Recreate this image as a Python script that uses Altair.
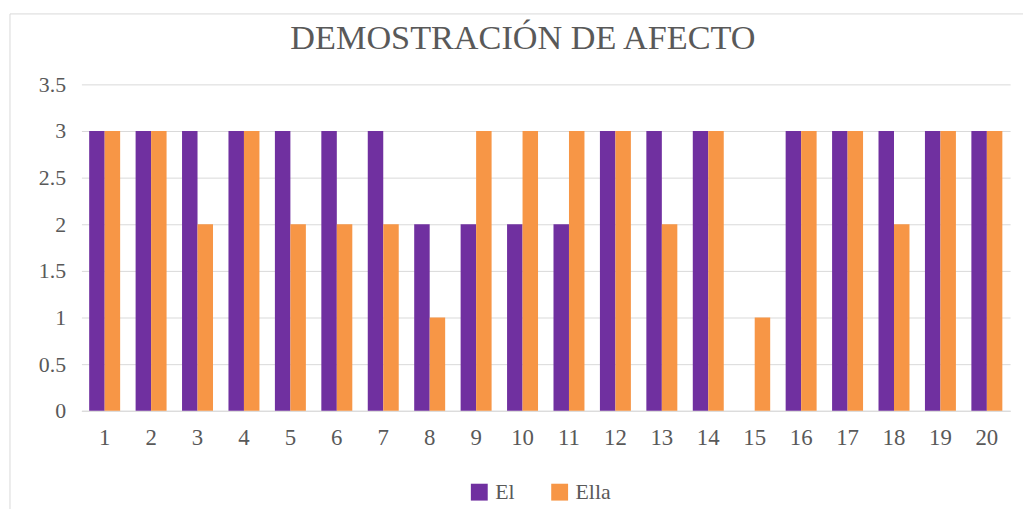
import altair as alt
import pandas as pd

categories = [str(i) for i in range(1, 21)]
el = [3, 3, 3, 3, 3, 3, 3, 2, 2, 2, 2, 3, 3, 3, 0, 3, 3, 3, 3, 3]
ella = [3, 3, 2, 3, 2, 2, 2, 1, 3, 3, 3, 3, 2, 3, 1, 3, 3, 2, 3, 3]
series = ["El", "Ella"]
colors = ["#7030A0", "#F79646"]
title_text = "DEMOSTRACIÓN DE AFECTO"

rows = []
for i, c in enumerate(categories):
    rows.append({"cat": c, "serie": "El", "valor": el[i]})
    rows.append({"cat": c, "serie": "Ella", "valor": ella[i]})
df = pd.DataFrame(rows)

FONT = "Liberation Serif"
TXT = "#595959"

bars = alt.Chart(df).mark_bar().encode(
    x=alt.X("cat:N", sort=categories, title=None,
            scale=alt.Scale(paddingInner=0.333, paddingOuter=0.167),
            axis=alt.Axis(labelAngle=0, ticks=False, domainColor="#d9d9d9",
                          labelPadding=16, labelFontSize=23, labelFont=FONT,
                          labelColor=TXT)),
    xOffset=alt.XOffset("serie:N", sort=series, scale=alt.Scale(paddingInner=0, paddingOuter=0)),
    y=alt.Y("valor:Q", title=None,
            scale=alt.Scale(domain=[0, 3.5], nice=False),
            axis=alt.Axis(values=[0, 0.5, 1, 1.5, 2, 2.5, 3, 3.5], format="~g",
                          domain=False, ticks=False, gridColor="#d9d9d9",
                          labelPadding=16, labelFontSize=22, labelFont=FONT,
                          labelColor=TXT)),
    color=alt.Color("serie:N", sort=series, title=None,
                    scale=alt.Scale(domain=series, range=colors),
                    legend=alt.Legend(orient="none", legendX=390, legendY=400,
                                      direction="horizontal", symbolType="square",
                                      symbolSize=289, symbolStrokeWidth=0,
                                      labelFont=FONT, labelFontSize=22,
                                      labelColor=TXT, columnPadding=34,
                                      labelOffset=5, padding=0)),
)

border = alt.Chart(pd.DataFrame({"a": [0]})).mark_rect(
    fill=None, stroke="#d9d9d9", strokeWidth=1
).encode(x=alt.value(-72), x2=alt.value(960), y=alt.value(-71), y2=alt.value(520))

title = alt.Chart(pd.DataFrame({"t": [title_text]})).mark_text(
    font=FONT, fontSize=34.5, color=TXT, align="center", baseline="alphabetic"
).encode(text="t:N", x=alt.value(445), y=alt.value(-36))

chart = alt.layer(border, bars, title).properties(
    width=936, height=329,
    autosize=alt.AutoSizeParams(type="none"),
    padding={"left": 74, "top": 75, "right": 13, "bottom": 97},
).configure_view(stroke=None)

chart.save("out.html", embed_options={"renderer": "svg", "actions": False})
